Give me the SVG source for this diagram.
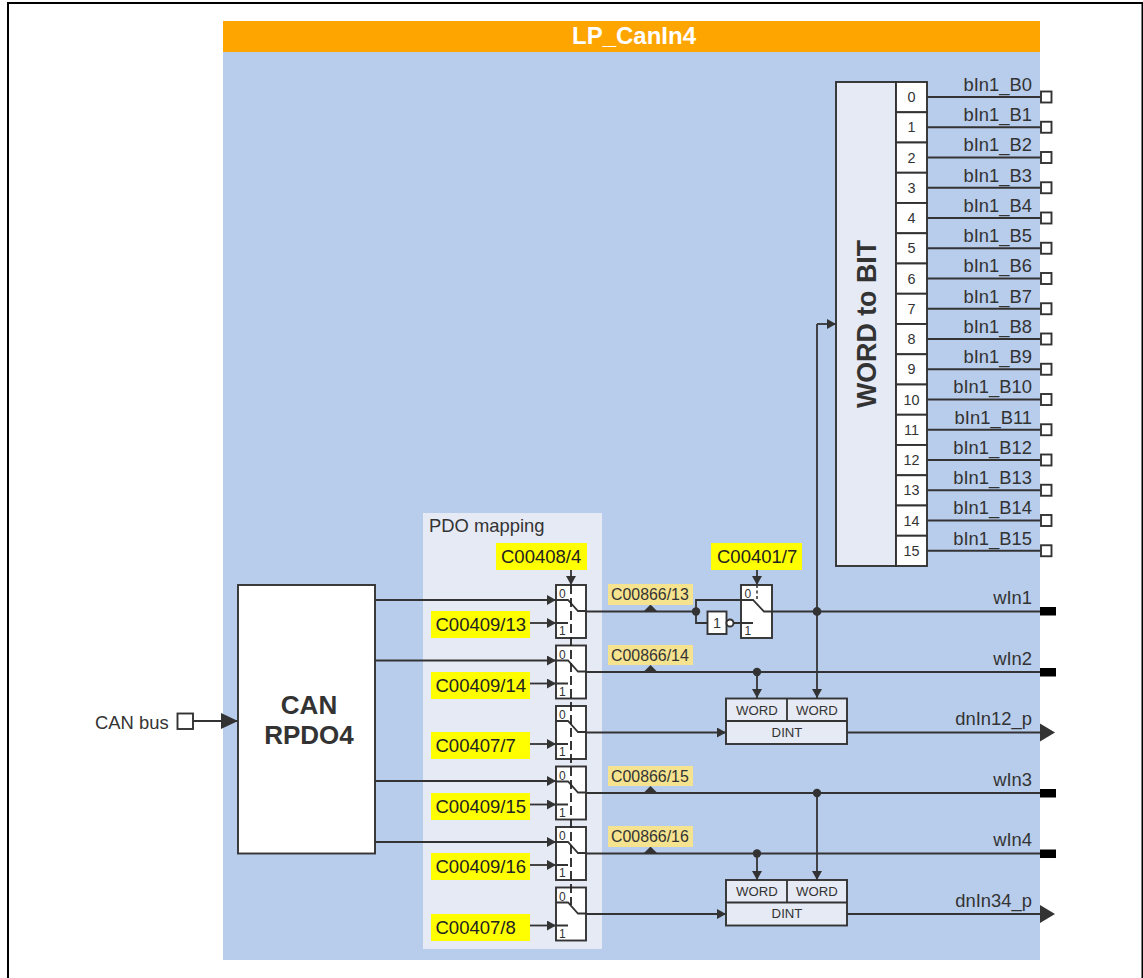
<svg xmlns="http://www.w3.org/2000/svg" width="1143" height="978" viewBox="0 0 1143 978">
<style>
text{font-family:"Liberation Sans",Arial,sans-serif;fill:#333}
.y{fill:#ff0}.b{fill:#f5e38f}
.box{fill:#fff;stroke:#333;stroke-width:1.9}
.gr{fill:#e6eaf5;stroke:#333;stroke-width:1.9}
.l{fill:none;stroke:#333;stroke-width:1.8}
.d{fill:#333}
.t18{font-size:18.4px}.t16{font-size:15.9px}.t13{font-size:13.2px}.t14{font-size:14.4px}.t11{font-size:12px}
.r{text-anchor:end}.m{text-anchor:middle}
.y18{font-size:18.5px;fill:#222}
.dash{fill:none;stroke:#222;stroke-width:1.8;stroke-dasharray:9 4}
</style>
<defs>
<marker id="a" markerUnits="userSpaceOnUse" markerWidth="9" markerHeight="10" refX="9" refY="5" orient="auto"><path d="M0 0L9 5L0 10z" fill="#333"/></marker>
<g id="sw"><rect class="box" x="556" y="0" width="30" height="53"/><path class="l" d="M556 15H568L578 26H586M568 38H556"/></g>
</defs>
<rect x="0" y="0" width="1143" height="978" fill="#fff"/>
<path d="M8 978V3H1142.5V978" fill="none" stroke="#000" stroke-width="2"/>
<g id="background">
<rect x="223" y="21" width="817" height="31" fill="#ffa500"/>
<rect x="223" y="52" width="817" height="908" fill="#b8cdec"/>
<rect x="423" y="513" width="179" height="436" fill="#e6eaf5"/>
<text x="634" y="44" class="m" font-size="24" font-weight="bold" style="fill:#fff">LP_CanIn4</text>
<text x="429" y="532" class="t18">PDO mapping</text>
</g>
<g id="connectors">
<path class="l" d="M193 721H237" />
<path d="M221 713L238 721L221 729z" class="d"/>
<path class="l" marker-end="url(#a)" d="M375 600H556"/>
<path class="l" marker-end="url(#a)" d="M375 660.500H556"/>
<path class="l" marker-end="url(#a)" d="M375 781H556"/>
<path class="l" marker-end="url(#a)" d="M375 842H556"/>
<path class="l" marker-end="url(#a)" d="M530 623H556"/>
<path class="l" marker-end="url(#a)" d="M530 683.500H556"/>
<path class="l" marker-end="url(#a)" d="M530 744H556"/>
<path class="l" marker-end="url(#a)" d="M530 804.500H556"/>
<path class="l" marker-end="url(#a)" d="M530 865H556"/>
<path class="l" marker-end="url(#a)" d="M530 925.500H556"/>
<path class="l" marker-end="url(#a)" d="M571 570V585"/>
<path class="l" marker-end="url(#a)" d="M757 570V585"/>
</g>
<g id="switches">
<use href="#sw" y="585"/><use href="#sw" y="645.500"/><use href="#sw" y="706"/><use href="#sw" y="766.500"/><use href="#sw" y="827"/><use href="#sw" y="887.500"/>
<path class="dash" d="M571 585V905"/>
<g class="t11">
<text x="559" y="598" class="t11">0</text><text x="559" y="635" class="t11">1</text>
<text x="559" y="658.500" class="t11">0</text><text x="559" y="695.500" class="t11">1</text>
<text x="559" y="719" class="t11">0</text><text x="559" y="756" class="t11">1</text>
<text x="559" y="779.500" class="t11">0</text><text x="559" y="816.500" class="t11">1</text>
<text x="559" y="840" class="t11">0</text><text x="559" y="877" class="t11">1</text>
<text x="559" y="900.500" class="t11">0</text><text x="559" y="937.500" class="t11">1</text>
</g>
</g>
<g id="can-block">
<rect class="box" x="238" y="585" width="137" height="268.500"/>
<text x="309" y="714" class="m" font-size="26" font-weight="bold">CAN</text>
<text x="309" y="744" class="m" font-size="26" font-weight="bold">RPDO4</text>
</g>
<g id="can-bus">
<text x="95" y="729" class="t18">CAN bus</text>
<rect class="box" x="177.500" y="713.500" width="15.500" height="15.500"/>
</g>
<g id="signals">
<path class="l" d="M586 611.500H696M696 611.500V600H741M696 611.500V623H707"/>
<path class="l" d="M586 672H1040"/>
<path class="l" marker-end="url(#a)" d="M586 732.500H726"/>
<path class="l" d="M586 793H1040"/>
<path class="l" d="M586 853.500H1040"/>
<path class="l" marker-end="url(#a)" d="M586 914H726"/>
<path class="l" d="M772 611.500H1040"/>
<path class="l" marker-end="url(#a)" d="M757 672V698"/>
<path class="l" marker-end="url(#a)" d="M817 324V698"/>
<path class="l" marker-end="url(#a)" d="M817 324H836"/>
<path class="l" marker-end="url(#a)" d="M757 853.500V880"/>
<path class="l" marker-end="url(#a)" d="M817 793V880"/>
<path class="l" d="M847 732.500H1040M847 914H1040"/>
<g class="d">
<circle cx="696" cy="611.500" r="4.200"/><circle cx="817" cy="611.500" r="4.400"/><circle cx="757" cy="672" r="4.200"/><circle cx="817" cy="793" r="4.200"/><circle cx="757" cy="853.500" r="4.200"/>
<path d="M643.500 611.500L650.500 604.500L657.500 611.500z"/><path d="M643.500 672L650.500 665L657.500 672z"/><path d="M643.500 793L650.500 786L657.500 793z"/><path d="M643.500 853.500L650.500 846.500L657.500 853.500z"/>
</g>
</g>
<g id="labels-yellow">
<rect class="y" x="496" y="543" width="91" height="27"/><text x="501" y="563" class="y18">C00408/4</text>
<rect class="y" x="711" y="543" width="91" height="27"/><text x="717" y="563" class="y18">C00401/7</text>
<rect class="y" x="431" y="611" width="99" height="27"/><text x="435.500" y="631" class="y18">C00409/13</text>
<rect class="y" x="431" y="672" width="99" height="27"/><text x="435.500" y="692" class="y18">C00409/14</text>
<rect class="y" x="431" y="732" width="99" height="27"/><text x="435.500" y="752" class="y18">C00407/7</text>
<rect class="y" x="431" y="793" width="99" height="27"/><text x="435.500" y="813" class="y18">C00409/15</text>
<rect class="y" x="431" y="853" width="99" height="27"/><text x="435.500" y="873" class="y18">C00409/16</text>
<rect class="y" x="431" y="914" width="99" height="27"/><text x="435.500" y="934" class="y18">C00407/8</text>
</g>
<g id="labels-beige">
<rect class="b" x="608" y="584" width="85" height="21"/><text x="611" y="600" class="t16">C00866/13</text>
<rect class="b" x="608" y="645" width="85" height="20"/><text x="611" y="661" class="t16">C00866/14</text>
<rect class="b" x="608" y="766" width="85" height="20"/><text x="611" y="782" class="t16">C00866/15</text>
<rect class="b" x="608" y="826" width="85" height="21"/><text x="611" y="842" class="t16">C00866/16</text>
</g>
<g id="switch-c00401">
<rect class="box" x="741" y="585" width="31" height="53"/>
<path class="l" d="M741 600H753L764 611.500H772M734 623H753"/>
<path d="M757 585V600" fill="none" stroke="#333" stroke-width="1.500" stroke-dasharray="3 2.500"/>
<text x="744.500" y="598" class="t11">0</text><text x="744.500" y="635" class="t11">1</text>
</g>
<g id="not-gate">
<rect class="box" x="707.500" y="611.500" width="19" height="22.500"/>
<text x="717" y="628" class="m t14">1</text>
<circle class="box" cx="730" cy="623" r="3.500"/>
</g>
<g id="word-to-dint-1">
<rect class="gr" x="726" y="698.500" width="121" height="45.500"/>
<path class="l" d="M726 721H847M787 698.500V721"/>
<text x="757" y="715" class="m t13">WORD</text><text x="817" y="715" class="m t13">WORD</text><text x="787" y="737" class="m t13">DINT</text>
</g>
<g id="word-to-dint-2">
<rect class="gr" x="726" y="880" width="121" height="45.500"/>
<path class="l" d="M726 902.500H847M787 880V902.500"/>
<text x="757" y="896" class="m t13">WORD</text><text x="817" y="896" class="m t13">WORD</text><text x="787" y="918" class="m t13">DINT</text>
</g>
<g id="word-to-bit">
<rect class="gr" x="836" y="82" width="60" height="484"/>
<text transform="translate(875.500 324) rotate(-90)" class="m" font-size="26.800" font-weight="bold">WORD to BIT</text>
<g class="box">
<rect x="896" y="82" width="31" height="30.250"/><rect x="896" y="112.250" width="31" height="30.250"/><rect x="896" y="142.500" width="31" height="30.250"/><rect x="896" y="172.750" width="31" height="30.250"/><rect x="896" y="203" width="31" height="30.250"/><rect x="896" y="233.250" width="31" height="30.250"/><rect x="896" y="263.500" width="31" height="30.250"/><rect x="896" y="293.750" width="31" height="30.250"/><rect x="896" y="324" width="31" height="30.250"/><rect x="896" y="354.250" width="31" height="30.250"/><rect x="896" y="384.500" width="31" height="30.250"/><rect x="896" y="414.750" width="31" height="30.250"/><rect x="896" y="445" width="31" height="30.250"/><rect x="896" y="475.250" width="31" height="30.250"/><rect x="896" y="505.500" width="31" height="30.250"/><rect x="896" y="535.750" width="31" height="30.250"/>
</g>
<text x="911.500" y="102" class="m t14">0</text><text x="911.500" y="132" class="m t14">1</text><text x="911.500" y="162.500" class="m t14">2</text><text x="911.500" y="193" class="m t14">3</text><text x="911.500" y="223" class="m t14">4</text><text x="911.500" y="253" class="m t14">5</text><text x="911.500" y="283.500" class="m t14">6</text><text x="911.500" y="314" class="m t14">7</text><text x="911.500" y="344" class="m t14">8</text><text x="911.500" y="374" class="m t14">9</text><text x="911.500" y="404.500" class="m t14">10</text><text x="911.500" y="435" class="m t14">11</text><text x="911.500" y="465" class="m t14">12</text><text x="911.500" y="495" class="m t14">13</text><text x="911.500" y="525.500" class="m t14">14</text><text x="911.500" y="556" class="m t14">15</text>
</g>
<g id="bit-outputs">
<path class="l" d="M927 97H1040M927 127.250H1040M927 157.500H1040M927 187.750H1040M927 218H1040M927 248.250H1040M927 278.500H1040M927 308.750H1040M927 339H1040M927 369.250H1040M927 399.500H1040M927 429.750H1040M927 460H1040M927 490.250H1040M927 520.500H1040M927 550.750H1040"/>
<g class="box">
<rect x="1041" y="91.500" width="10.500" height="11"/><rect x="1041" y="121.750" width="10.500" height="11"/><rect x="1041" y="152" width="10.500" height="11"/><rect x="1041" y="182.250" width="10.500" height="11"/><rect x="1041" y="212.500" width="10.500" height="11"/><rect x="1041" y="242.750" width="10.500" height="11"/><rect x="1041" y="273" width="10.500" height="11"/><rect x="1041" y="303.250" width="10.500" height="11"/><rect x="1041" y="333.500" width="10.500" height="11"/><rect x="1041" y="363.750" width="10.500" height="11"/><rect x="1041" y="394" width="10.500" height="11"/><rect x="1041" y="424.250" width="10.500" height="11"/><rect x="1041" y="454.500" width="10.500" height="11"/><rect x="1041" y="484.750" width="10.500" height="11"/><rect x="1041" y="515" width="10.500" height="11"/><rect x="1041" y="545.250" width="10.500" height="11"/>
</g>
<text x="1032" y="91" class="r t18">bIn1_B0</text><text x="1032" y="121" class="r t18">bIn1_B1</text><text x="1032" y="151" class="r t18">bIn1_B2</text><text x="1032" y="181.500" class="r t18">bIn1_B3</text><text x="1032" y="211.500" class="r t18">bIn1_B4</text><text x="1032" y="242" class="r t18">bIn1_B5</text><text x="1032" y="272" class="r t18">bIn1_B6</text><text x="1032" y="302.500" class="r t18">bIn1_B7</text><text x="1032" y="332.500" class="r t18">bIn1_B8</text><text x="1032" y="363" class="r t18">bIn1_B9</text><text x="1032" y="393" class="r t18">bIn1_B10</text><text x="1032" y="423.500" class="r t18">bIn1_B11</text><text x="1032" y="453.500" class="r t18">bIn1_B12</text><text x="1032" y="484" class="r t18">bIn1_B13</text><text x="1032" y="514" class="r t18">bIn1_B14</text><text x="1032" y="544.500" class="r t18">bIn1_B15</text>
</g>
<g id="word-outputs">
<rect x="1040" y="607" width="16" height="8.500" fill="#000"/><rect x="1040" y="668" width="16" height="8.500" fill="#000"/><rect x="1040" y="789" width="16" height="8.500" fill="#000"/><rect x="1040" y="849.500" width="16" height="8.500" fill="#000"/>
<path class="d" d="M1040 723.500L1055 732.500L1040 741.500zM1040 905L1055 914L1040 923z"/>
<text x="1032" y="603.500" class="r t18">wIn1</text><text x="1032" y="664.500" class="r t18">wIn2</text><text x="1032" y="725" class="r t18">dnIn12_p</text><text x="1032" y="785.500" class="r t18">wIn3</text><text x="1032" y="846" class="r t18">wIn4</text><text x="1032" y="907" class="r t18">dnIn34_p</text>
</g>
</svg>
